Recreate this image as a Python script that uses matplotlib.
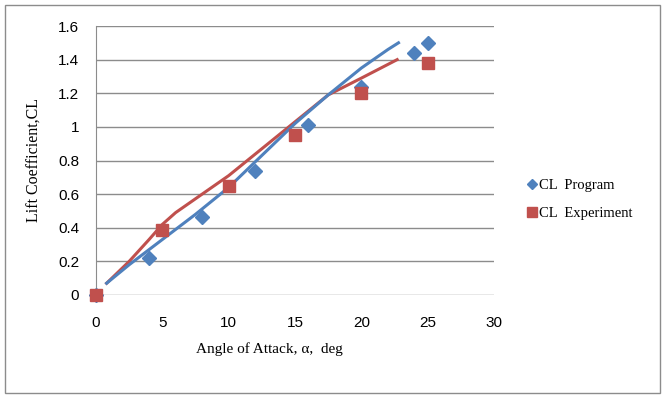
import matplotlib.pyplot as plt
from matplotlib.lines import Line2D

# ── Data ──────────────────────────────────────────────────────────────────────
prog_x = [0, 4, 8, 12, 16, 20, 24, 25]
prog_y = [0, 0.22, 0.465, 0.74, 1.01, 1.24, 1.44, 1.50]

exp_x = [0, 5, 10, 15, 20, 25]
exp_y = [0, 0.385, 0.65, 0.95, 1.20, 1.38]

# smoothed curves
prog_curve_x = [0.8, 2.5, 5, 7.5, 10, 12.5, 15, 17.5, 20, 22, 22.8]
prog_curve_y = [0.07, 0.18, 0.33, 0.48, 0.64, 0.83, 1.02, 1.19, 1.35, 1.46, 1.50]

exp_curve_x = [0.8, 2.5, 4, 5, 6, 8, 10, 12.5, 15, 17.5, 20, 22.7]
exp_curve_y = [0.07, 0.20, 0.33, 0.42, 0.49, 0.60, 0.71, 0.87, 1.03, 1.19, 1.29, 1.40]

# ── Colors ────────────────────────────────────────────────────────────────────
BLUE = "#4F81BD"
RED = "#C0504D"
GRID = "#8C8C8C"

fig = plt.figure(figsize=(6.64, 4.0), dpi=100, facecolor="white")

# outer chart frame
fig.add_artist(plt.Rectangle((0.0075, 0.0175), 0.9865, 0.97,
                             transform=fig.transFigure, fill=False,
                             edgecolor="#8C8C8C", linewidth=1.0))

ax = fig.add_axes([0.1446, 0.2625, 0.5994, 0.6725])

ax.plot(exp_curve_x, exp_curve_y, color=RED, linewidth=2.2, zorder=3)
ax.plot(prog_curve_x, prog_curve_y, color=BLUE, linewidth=2.2, zorder=4)

ax.plot(prog_x, prog_y, linestyle="none", marker="D", markersize=7,
        color=BLUE, zorder=5, clip_on=False)
ax.plot(exp_x, exp_y, linestyle="none", marker="s", markersize=9,
        color=RED, zorder=6, clip_on=False)

ax.set_xlim(0, 30)
ax.set_ylim(0, 1.6)
ax.set_xticks(range(0, 31, 5))
ax.set_yticks([0, 0.2, 0.4, 0.6, 0.8, 1.0, 1.2, 1.4, 1.6])
ax.set_yticklabels(["0", "0.2", "0.4", "0.6", "0.8", "1", "1.2", "1.4", "1.6"])

ax.grid(axis="y", color=GRID, linewidth=1.0)
ax.set_axisbelow(True)
for s in ["top", "right", "bottom"]:
    ax.spines[s].set_visible(False)
ax.spines["left"].set_color(GRID)
ax.tick_params(axis="both", length=0, labelsize=11,
               labelfontfamily="Liberation Sans")
ax.tick_params(axis="x", pad=15)
ax.tick_params(axis="y", pad=12)

fig.text(269 / 664, 1 - 349 / 400, "Angle of Attack, α,  deg",
         fontfamily="Liberation Serif", fontsize=11, ha="center", va="center")
fig.text(35 / 664, 1 - 160 / 400, "Lift Coefficient,CL",
         fontfamily="Liberation Serif", fontsize=11.5, ha="center",
         va="center", rotation=90)

handles = [
    Line2D([0], [0], linestyle="none", marker="D", markersize=5, color=BLUE,
           label="CL  Program"),
    Line2D([0], [0], linestyle="none", marker="s", markersize=6.5, color=RED,
           label="CL  Experiment"),
]
fig.legend(handles=handles, loc="center left", bbox_to_anchor=(0.775, 0.501),
           frameon=False, prop={"family": "Liberation Serif", "size": 10.5},
           handlelength=0.6, handletextpad=0.15, labelspacing=1.05)

plt.savefig("out.png", dpi=100, facecolor="white")
